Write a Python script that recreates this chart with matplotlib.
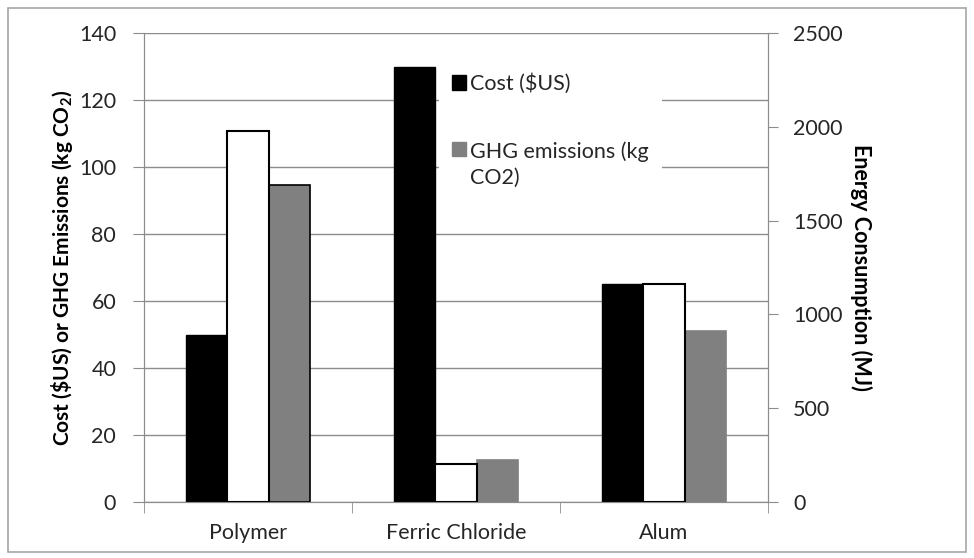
import matplotlib.pyplot as plt
import matplotlib.patches as mpatches
from matplotlib.legend_handler import HandlerPatch
import numpy as np

plt.rcParams['font.family'] = ['Lato', 'DejaVu Sans']
plt.rcParams['mathtext.fontset'] = 'custom'
plt.rcParams['mathtext.rm'] = 'Lato:bold'
plt.rcParams['mathtext.it'] = 'Lato:bold'
plt.rcParams['mathtext.bf'] = 'Lato:bold'

categories = ['Polymer', 'Ferric Chloride', 'Alum']
cost = [50, 130, 65]             # $US, left axis
energy = [1980, 200, 1160]       # MJ, right axis
ghg = [94.5, 12.6, 51]           # kg CO2, left axis

GRID = '#8c8c8c'
TXT = '#262626'
x = np.arange(len(categories))
w = 0.2

fig = plt.figure(figsize=(9.74, 5.58), dpi=100)
ax = fig.add_axes([144 / 974, 56 / 558, 624 / 974, 469 / 558])
ax2 = ax.twinx()

# bars: cost and ghg on left axis, energy on right axis
ax.bar(x - w, cost, w, color='black', edgecolor='black', linewidth=1, zorder=3)
ghg_edges = ['black', '#808080', '#808080']
ax.bar(x + w, ghg, w, color='#808080', edgecolor=ghg_edges, linewidth=1.2, zorder=3)
ax2.bar(x, energy, w, color='white', edgecolor='black', linewidth=1.5, zorder=3)

ax.set_xlim(-0.5, 2.5)
ax.set_ylim(0, 140)
ax2.set_ylim(0, 2500)
ax.set_yticks(np.arange(0, 141, 20))
ax2.set_yticks(np.arange(0, 2501, 500))
ax.yaxis.grid(True, color=GRID, linewidth=1)
ax.set_axisbelow(True)

ax.set_xticks(x)
ax.set_xticklabels(categories)
ax.set_xticks([-0.5, 0.5, 1.5, 2.5], minor=True)
ax.tick_params(axis='x', which='major', length=0, pad=15, labelsize=15.5, labelcolor=TXT)
ax.tick_params(axis='x', which='minor', length=8, color=GRID, direction='out')
ax.tick_params(axis='y', length=8, color=GRID, pad=12, labelsize=15.5, labelcolor=TXT)
ax2.tick_params(axis='y', length=7, color=GRID, pad=11, labelsize=15.5, labelcolor=TXT)

for a in (ax, ax2):
    a.spines['top'].set_visible(False)
    for s in ('left', 'right', 'bottom'):
        a.spines[s].set_color(GRID)

ax.set_ylabel(r'Cost (\$US) or GHG Emissions (kg CO$_2$)', fontsize=15,
              fontweight='bold', labelpad=3)
ax2.set_ylabel('Energy Consumption (MJ)', fontsize=15.5, fontweight='bold',
               rotation=-90, labelpad=21)


def top_square(legend, orig_handle, xdescent, ydescent, width, height, fontsize):
    # keep the swatch level with the first line of a two-line label
    return mpatches.Rectangle((-xdescent, -ydescent + 0.75 * fontsize), width, height)


handles = [mpatches.Patch(facecolor='black', edgecolor='black', label='Cost ($US)'),
           mpatches.Patch(facecolor='#808080', edgecolor='#808080',
                          label='GHG emissions (kg\nCO2)')]
leg = ax2.legend(handles=handles, loc='upper left', bbox_to_anchor=(0.455, 0.964),
                 frameon=True, fancybox=False, facecolor='white', edgecolor='none',
                 framealpha=1, fontsize=15.5, handlelength=0.65, handleheight=0.65,
                 handletextpad=0.22, labelspacing=2.2, borderpad=0.6,
                 handler_map={handles[1]: HandlerPatch(patch_func=top_square)})
for t in leg.get_texts():
    t.set_color(TXT)
    t.set_linespacing(1.35)
leg.set_zorder(5)

# chart border
fig.patches.append(mpatches.Rectangle((8 / 974, 6 / 558), 958 / 974, 544 / 558,
                                      transform=fig.transFigure, fill=False,
                                      edgecolor='#a6a6a6', linewidth=1.2))

fig.savefig('out.png', dpi=100)
